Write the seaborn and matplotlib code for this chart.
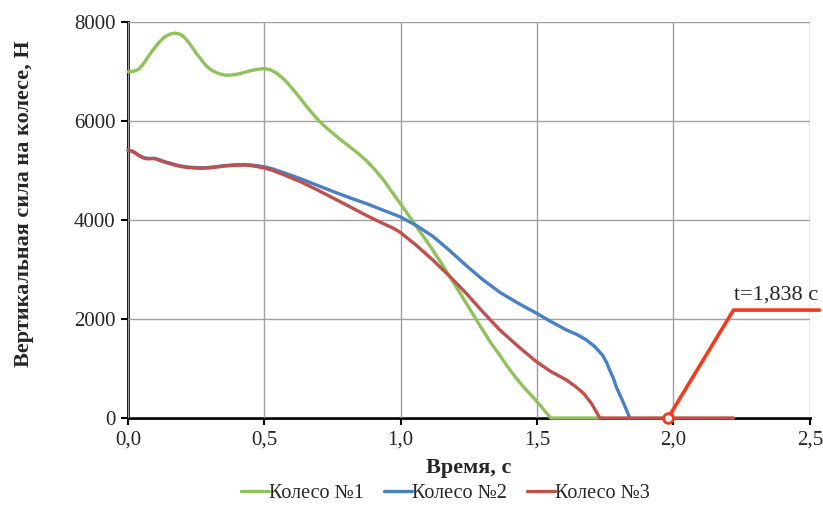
import numpy as np
import pandas as pd
import matplotlib
matplotlib.use('Agg')
import matplotlib.pyplot as plt
import seaborn as sns

# ------------------------------------------------------
# DATA
# ------------------------------------------------------

# Wheel 1 (green)
t1 = [0.0, 0.02, 0.038, 0.056, 0.074, 0.092, 0.111, 0.13, 0.148, 0.16, 0.172,
      0.188, 0.203, 0.218, 0.233, 0.25, 0.27, 0.288, 0.306, 0.325, 0.343, 0.36,
      0.38, 0.404, 0.428, 0.452, 0.477, 0.496, 0.52, 0.545, 0.575, 0.605,
      0.63, 0.654, 0.68, 0.703, 0.728, 0.752, 0.78, 0.813, 0.845, 0.874,
      0.905, 0.935, 0.965, 0.996, 1.027, 1.057, 1.088, 1.118, 1.15, 1.18,
      1.21, 1.24, 1.27, 1.30, 1.33, 1.363, 1.39, 1.42, 1.45, 1.485, 1.515,
      1.55, 1.73]
f1 = [7000, 7005, 7040, 7150, 7300, 7440, 7570, 7680, 7740, 7765, 7775,
      7760, 7710, 7620, 7510, 7370, 7230, 7110, 7030, 6975, 6940, 6925,
      6930, 6950, 6985, 7020, 7045, 7060, 7040, 6965, 6830, 6640,
      6470, 6300, 6130, 5990, 5860, 5750, 5620, 5480, 5340, 5200,
      5020, 4820, 4590, 4350, 4110, 3870, 3630, 3390, 3120, 2850,
      2590, 2320, 2050, 1780, 1520, 1270, 1050, 830, 630, 420, 230,
      0, 0]

# Wheel 2 (blue)
t2 = [0.0, 0.013, 0.026, 0.038, 0.05, 0.062, 0.074, 0.087, 0.099, 0.111,
      0.123, 0.14, 0.16, 0.178, 0.196, 0.22, 0.245, 0.27, 0.294, 0.325,
      0.355, 0.39, 0.428, 0.455, 0.477, 0.5, 0.526, 0.569, 0.63, 0.69,
      0.75, 0.813, 0.875, 0.935, 0.996, 1.057, 1.118, 1.18, 1.24, 1.30,
      1.363, 1.43, 1.497, 1.55, 1.607, 1.645, 1.68, 1.71, 1.74, 1.755,
      1.766, 1.78, 1.79, 1.815, 1.84]
f2 = [5410, 5395, 5360, 5315, 5280, 5255, 5245, 5245, 5245, 5225,
      5200, 5170, 5140, 5110, 5090, 5070, 5060, 5055, 5060, 5080,
      5100, 5115, 5120, 5110, 5095, 5075, 5040, 4960, 4840, 4710,
      4580, 4450, 4330, 4200, 4070, 3890, 3670, 3380, 3080, 2800,
      2540, 2320, 2120, 1950, 1780, 1690, 1580, 1450, 1270, 1120,
      970, 800, 630, 330, 0]

# Wheel 3 (red)
t3 = [0.0, 0.013, 0.026, 0.038, 0.05, 0.062, 0.074, 0.087, 0.099, 0.111,
      0.123, 0.14, 0.16, 0.178, 0.196, 0.22, 0.245, 0.27, 0.294, 0.325,
      0.355, 0.39, 0.428, 0.455, 0.477, 0.5, 0.526, 0.569, 0.63, 0.69,
      0.75, 0.813, 0.875, 0.935, 0.971, 0.996, 1.057, 1.118, 1.18, 1.24,
      1.30, 1.363, 1.43, 1.497, 1.55, 1.607, 1.64, 1.67, 1.70, 1.73, 2.22]
f3 = [5410, 5395, 5355, 5305, 5270, 5245, 5235, 5240, 5240, 5215,
      5190, 5160, 5130, 5100, 5080, 5060, 5050, 5045, 5050, 5070,
      5090, 5105, 5110, 5095, 5075, 5050, 5010, 4920, 4780, 4620,
      4450, 4270, 4090, 3930, 3840, 3760, 3490, 3190, 2860, 2520,
      2150, 1780, 1450, 1140, 940, 770, 640, 500, 290, 0, 0]

wheels = ['Колесо №1', 'Колесо №2', 'Колесо №3']
colors = ['#8fc25a', '#4a80c4', '#c0504d']

# annotation (contact loss marker)
t_mark = [1.98, 2.22, 2.535]
f_mark = [0, 2180, 2180]
mark_text = 't=1,838 с'

# ------------------------------------------------------
# PLOT
# ------------------------------------------------------

df = pd.concat([
    pd.DataFrame({'t': t1, 'F': f1, 'wheel': wheels[0]}),
    pd.DataFrame({'t': t2, 'F': f2, 'wheel': wheels[1]}),
    pd.DataFrame({'t': t3, 'F': f3, 'wheel': wheels[2]}),
])

sns.set_style('whitegrid')
plt.rcParams['font.family'] = ['Liberation Serif', 'DejaVu Serif']

fig = plt.figure(figsize=(8.23, 5.12), dpi=100)
ax = fig.add_axes([0.1555, 0.1836, 0.8285, 0.7734])

sns.lineplot(data=df, x='t', y='F', hue='wheel', palette=colors, sort=False,
             linewidth=2.4, ax=ax, legend=True)
for ln in ax.lines:
    ln.set_clip_on(False)
    ln.set_solid_joinstyle('round')

# red annotation line with open circle
ax.plot(t_mark, f_mark, color='#f23a1c', lw=2.6, clip_on=False, zorder=5)
ax.plot(t_mark[0], f_mark[0], 'o', ms=7, mfc='white', mec='#f23a1c', mew=2,
        clip_on=False, zorder=6)
ax.text(2.222, 2300, mark_text, fontsize=16, ha='left', va='bottom')

ax.set_xlim(0, 2.5)
ax.set_ylim(0, 8000)
ax.set_xticks(np.arange(0, 2.51, 0.5))
ax.set_yticks(np.arange(0, 8001, 2000))
ax.set_xticklabels([('%.1f' % v).replace('.', ',') for v in np.arange(0, 2.51, 0.5)])
ax.tick_params(labelsize=15, length=5, width=1.5, color='k', direction='out', pad=4)
ax.tick_params(axis='x', bottom=True, pad=4)
ax.tick_params(axis='y', left=True)

ax.grid(True, color='#a0a0a0', lw=1)
for s in ['top', 'right']:
    ax.spines[s].set_visible(False)
for s in ['left', 'bottom']:
    ax.spines[s].set_color('k')
    ax.spines[s].set_linewidth(2)
    ax.spines[s].set_zorder(0.5)

ax.set_xlabel('Время, с', fontsize=16, fontweight='bold', labelpad=6)
ax.set_ylabel('Вертикальная сила на колесе, Н', fontsize=16, fontweight='bold')
ax.yaxis.set_label_coords(-0.138, 0.54)

h, l = ax.get_legend_handles_labels()
ax.get_legend().remove()
fig.legend(h, l, loc='center', bbox_to_anchor=(0.541, 0.036), ncol=3, frameon=False,
           fontsize=14.5, handlelength=1.4, handletextpad=0.0, columnspacing=1.0)

plt.savefig('out.png', dpi=100)
plt.close('all')
